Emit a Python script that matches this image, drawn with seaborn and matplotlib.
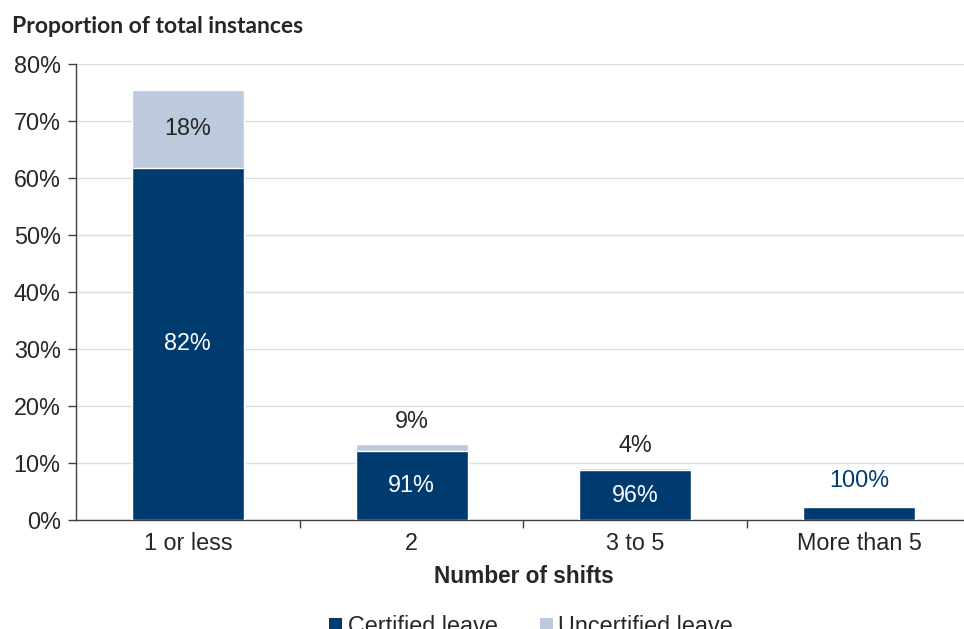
import matplotlib
matplotlib.use("Agg")
import matplotlib.pyplot as plt
from matplotlib.patches import Patch
import seaborn as sns
import pandas as pd

# Share of all instances falling in each shift-count band
categories = ["1 or less", "2", "3 to 5", "More than 5"]
total_share = [75.4, 13.3, 9.1, 2.3]
# Split of each band between certified and uncertified leave (% of the band)
certified_pct = [82, 91, 96, 100]
uncertified_pct = [18, 9, 4, 0]

DARK = "#003B6F"
LIGHT = "#BDC9DC"
TEXT = "#262626"
FS = 16.8

certified_share = [t * c / 100 for t, c in zip(total_share, certified_pct)]
df = pd.DataFrame({"band": categories, "total": total_share, "certified": certified_share})

sns.set_theme(style="white")
plt.rcParams["font.family"] = ["Liberation Sans", "DejaVu Sans"]

fig = plt.figure(figsize=(9.64, 6.29), dpi=100)
ax = fig.add_axes([0.0788, 0.1733, 0.9284, 0.7250])

sns.barplot(data=df, x="band", y="total", color=LIGHT, width=0.5, ax=ax,
            saturation=1, zorder=3)
sns.barplot(data=df, x="band", y="certified", color=DARK, width=0.5, ax=ax,
            saturation=1, zorder=3)

ax.set_xlim(-0.5, 3.5)
ax.set_ylim(0, 80)
ax.set_yticks(range(0, 81, 10))
ax.set_yticklabels([f"{v}%" for v in range(0, 81, 10)])
ax.yaxis.grid(True, color="#DEDEDE", linewidth=1, zorder=0)
ax.set_axisbelow(True)

for side in ["top", "right"]:
    ax.spines[side].set_visible(False)
ax.spines["left"].set_color("#404040")
ax.spines["bottom"].set_color("#404040")
ax.spines["left"].set_linewidth(1)
ax.spines["bottom"].set_linewidth(1)

# x ticks sit on the boundaries between bands; labels centred on bars
ax.set_xticks([0.5, 1.5, 2.5])
ax.set_xticklabels([])
ax.set_xticks(range(len(categories)), minor=True)
ax.set_xticklabels(categories, minor=True)
ax.tick_params(axis="x", which="major", direction="out", length=6, width=1,
               color="#404040", bottom=True)
ax.tick_params(axis="x", which="minor", length=0, pad=9, labelsize=FS,
               labelcolor=TEXT)
ax.tick_params(axis="y", direction="out", length=6, width=1, color="#404040",
               left=True, labelsize=FS, labelcolor=TEXT, pad=5)

ax.set_xlabel("Number of shifts", fontsize=16.3, fontweight="bold", color=TEXT,
              labelpad=7)
ax.set_ylabel("")

fig.text(0.0125, 0.958, "Proportion of total instances", fontsize=16.5,
         fontweight="bold", color=TEXT, family=["Lato", "DejaVu Sans"],
         ha="left", va="center")

# Segment labels
for i, (tot, cert, cp, up) in enumerate(zip(total_share, certified_share,
                                             certified_pct, uncertified_pct)):
    unc = tot - cert
    if cp == 100:
        ax.annotate(f"{cp}%", (i, tot), xytext=(0, 19), textcoords="offset points",
                    ha="center", va="center", fontsize=FS, color=DARK)
        continue
    ax.text(i, cert / 2, f"{cp}%", ha="center", va="center", fontsize=FS,
            color="white", zorder=5)
    if unc > 6:
        ax.text(i, cert + unc / 2, f"{up}%", ha="center", va="center",
                fontsize=FS, color=TEXT, zorder=5)
    else:
        ax.annotate(f"{up}%", (i, tot), xytext=(0, 16), textcoords="offset points",
                    ha="center", va="center", fontsize=FS, color=TEXT)

handles = [Patch(facecolor=DARK, edgecolor="none", label="Certified leave"),
           Patch(facecolor=LIGHT, edgecolor="none", label="Uncertified leave")]
fig.legend(handles=handles, loc="center", bbox_to_anchor=(0.551, 0.004), ncol=2,
           frameon=False, fontsize=FS, handlelength=0.55, handleheight=0.55,
           handletextpad=0.25, columnspacing=1.8, labelcolor=TEXT)

fig.savefig("out.png", dpi=100)
